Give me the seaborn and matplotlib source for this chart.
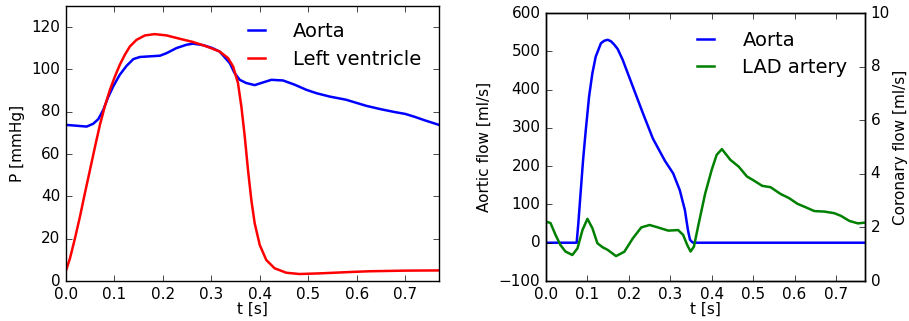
import matplotlib
matplotlib.use("Agg")
import matplotlib.pyplot as plt
import seaborn as sns
import pandas as pd
import numpy as np

plt.style.use("classic")

# ---- Left panel: pressures ----
t_aorta_p = [0.0, 0.022, 0.0426, 0.056, 0.0666, 0.077, 0.087, 0.0975, 0.111, 0.125, 0.139, 0.1525,
             0.173, 0.194, 0.2075, 0.228, 0.249, 0.262, 0.283, 0.30, 0.317, 0.338, 0.348, 0.3586,
             0.372, 0.3895, 0.403, 0.424, 0.448, 0.472, 0.496, 0.5166, 0.544, 0.578, 0.62, 0.65,
             0.68, 0.70, 0.72, 0.74, 0.77]
p_aorta = [73.8, 73.4, 73.0, 74.3, 76.5, 80.9, 86.9, 92.0, 97.5, 101.7, 104.9, 105.9,
           106.2, 106.5, 107.7, 110.1, 111.7, 112.2, 111.5, 110.3, 108.5, 103.0, 98.3, 95.1,
           93.6, 92.6, 93.6, 95.1, 94.8, 92.8, 90.4, 88.8, 87.2, 85.7, 82.8, 81.2,
           79.8, 79.0, 77.6, 76.0, 73.8]

t_lv = [0.0, 0.0082, 0.0185, 0.0288, 0.039, 0.0495, 0.06, 0.07, 0.080, 0.0907, 0.101, 0.111, 0.1216,
        0.132, 0.1456, 0.163, 0.183, 0.2075, 0.235, 0.262, 0.29, 0.317, 0.3345, 0.345, 0.355, 0.362,
        0.369, 0.3757, 0.3826, 0.3895, 0.40, 0.4135, 0.4307, 0.4548, 0.482, 0.523, 0.592, 0.626,
        0.70, 0.77]
p_lv = [4.9, 10.7, 20.2, 30.4, 41.5, 52.5, 63.6, 73.8, 82.5, 90.4, 96.7, 102.2, 107.0,
        110.9, 114.0, 116.1, 116.7, 116.1, 114.5, 113.0, 110.9, 108.5, 105.4, 101.4, 93.6, 82.5,
        68.3, 52.5, 38.3, 27.3, 17.0, 9.9, 6.0, 3.9, 3.3, 3.6, 4.3, 4.6,
        4.9, 5.0]

# ---- Right panel: flows ----
t_qao = [0.0, 0.074, 0.078, 0.084, 0.0895, 0.096, 0.104, 0.112, 0.120, 0.1326, 0.1406, 0.149, 0.157,
         0.165, 0.173, 0.185, 0.2095, 0.234, 0.258, 0.287, 0.307, 0.323, 0.3353, 0.3426, 0.3475,
         0.3516, 0.355, 0.77]
q_aorta = [0.0, 0.0, 50.0, 137.0, 216.0, 294.0, 382.0, 443.0, 486.0, 521.0, 527.5, 530.0, 526.0,
           517.0, 506.0, 478.0, 408.0, 338.0, 272.0, 214.0, 181.0, 137.0, 85.0, 33.0, 8.0,
           3.0, 0.0, 0.0]

t_lad = [0.0, 0.011, 0.023, 0.035, 0.047, 0.0636, 0.076, 0.088, 0.100, 0.112, 0.124, 0.1365, 0.149,
         0.169, 0.189, 0.2095, 0.230, 0.250, 0.270, 0.295, 0.319, 0.331, 0.341, 0.349, 0.357, 0.368,
         0.384, 0.400, 0.412, 0.4246, 0.445, 0.465, 0.485, 0.5015, 0.522, 0.542, 0.566, 0.587, 0.607,
         0.627, 0.6475, 0.672, 0.696, 0.712, 0.7325, 0.753, 0.771]
q_lad = [2.22, 2.16, 1.72, 1.34, 1.10, 0.97, 1.22, 1.90, 2.32, 1.97, 1.41, 1.26, 1.16,
         0.93, 1.09, 1.59, 2.00, 2.09, 2.00, 1.88, 1.90, 1.72, 1.34, 1.10, 1.28, 2.10,
         3.25, 4.15, 4.71, 4.92, 4.52, 4.27, 3.90, 3.75, 3.55, 3.50, 3.25, 3.09, 2.88,
         2.75, 2.61, 2.59, 2.53, 2.43, 2.24, 2.15, 2.18]

x_ticks = [0.0, 0.1, 0.2, 0.3, 0.4, 0.5, 0.6, 0.7]

df_pa = pd.DataFrame({"t": t_aorta_p, "P": p_aorta})
df_plv = pd.DataFrame({"t": t_lv, "P": p_lv})
df_qa = pd.DataFrame({"t": t_qao, "Q": q_aorta})
df_ql = pd.DataFrame({"t": t_lad, "Q": q_lad})

W, H = 909, 321
fig = plt.figure(figsize=(W / 100, H / 100), dpi=100, facecolor="white")

TICK_FS = 11
LAB_FS = 11
LEG_FS = 14
LW = 1.8

# Left axes
ax1 = fig.add_axes([66 / W, (H - 281) / H, (439 - 66) / W, (281 - 6) / H])
sns.lineplot(data=df_pa, x="t", y="P", ax=ax1, color="b", lw=LW, label="Aorta")
sns.lineplot(data=df_plv, x="t", y="P", ax=ax1, color="r", lw=LW, label="Left ventricle")
ax1.set_xlim(0, 0.77)
ax1.set_ylim(0, 130)
ax1.set_yticks([0, 20, 40, 60, 80, 100, 120])
ax1.set_xticks(x_ticks)
ax1.set_xlabel("t [s]", fontsize=LAB_FS, labelpad=0)
ax1.set_ylabel("P [mmHg]", fontsize=LAB_FS)
ax1.tick_params(labelsize=TICK_FS)
ax1.legend(loc="upper right", bbox_to_anchor=(1.0, 1.005), frameon=False, fontsize=LEG_FS,
           handlelength=1.5, handletextpad=1.15, labelspacing=0.45)

# Right axes
ax2 = fig.add_axes([546 / W, (H - 281) / H, (865 - 546) / W, (281 - 13) / H])
sns.lineplot(data=df_qa, x="t", y="Q", ax=ax2, color="b", lw=LW, label="Aorta")
ax2.set_xlim(0, 0.77)
ax2.set_ylim(-100, 600)
ax2.set_yticks([-100, 0, 100, 200, 300, 400, 500, 600])
ax2.set_xticks(x_ticks)
ax2.set_xlabel("t [s]", fontsize=LAB_FS, labelpad=0)
ax2.set_ylabel("Aortic flow [ml/s]", fontsize=LAB_FS)
ax2.tick_params(labelsize=TICK_FS)

ax3 = ax2.twinx()
sns.lineplot(data=df_ql, x="t", y="Q", ax=ax3, color="g", lw=LW, label="LAD artery")
ax3.set_ylim(0, 10)
ax3.set_yticks([0, 2, 4, 6, 8, 10])
ax3.set_ylabel("Coronary flow [ml/s]", fontsize=LAB_FS, labelpad=2)
ax3.tick_params(labelsize=TICK_FS)
ax3.set_xlim(0, 0.77)

h2, l2 = ax2.get_legend_handles_labels()
h3, l3 = ax3.get_legend_handles_labels()
if ax3.get_legend() is not None:
    ax3.get_legend().remove()
ax2.legend(h2 + h3, l2 + l3, loc="upper right", bbox_to_anchor=(1.0, 1.0), frameon=False,
           fontsize=LEG_FS, handlelength=1.5, handletextpad=1.15, labelspacing=0.45)

fig.savefig("out.png", dpi=100, facecolor="white")
